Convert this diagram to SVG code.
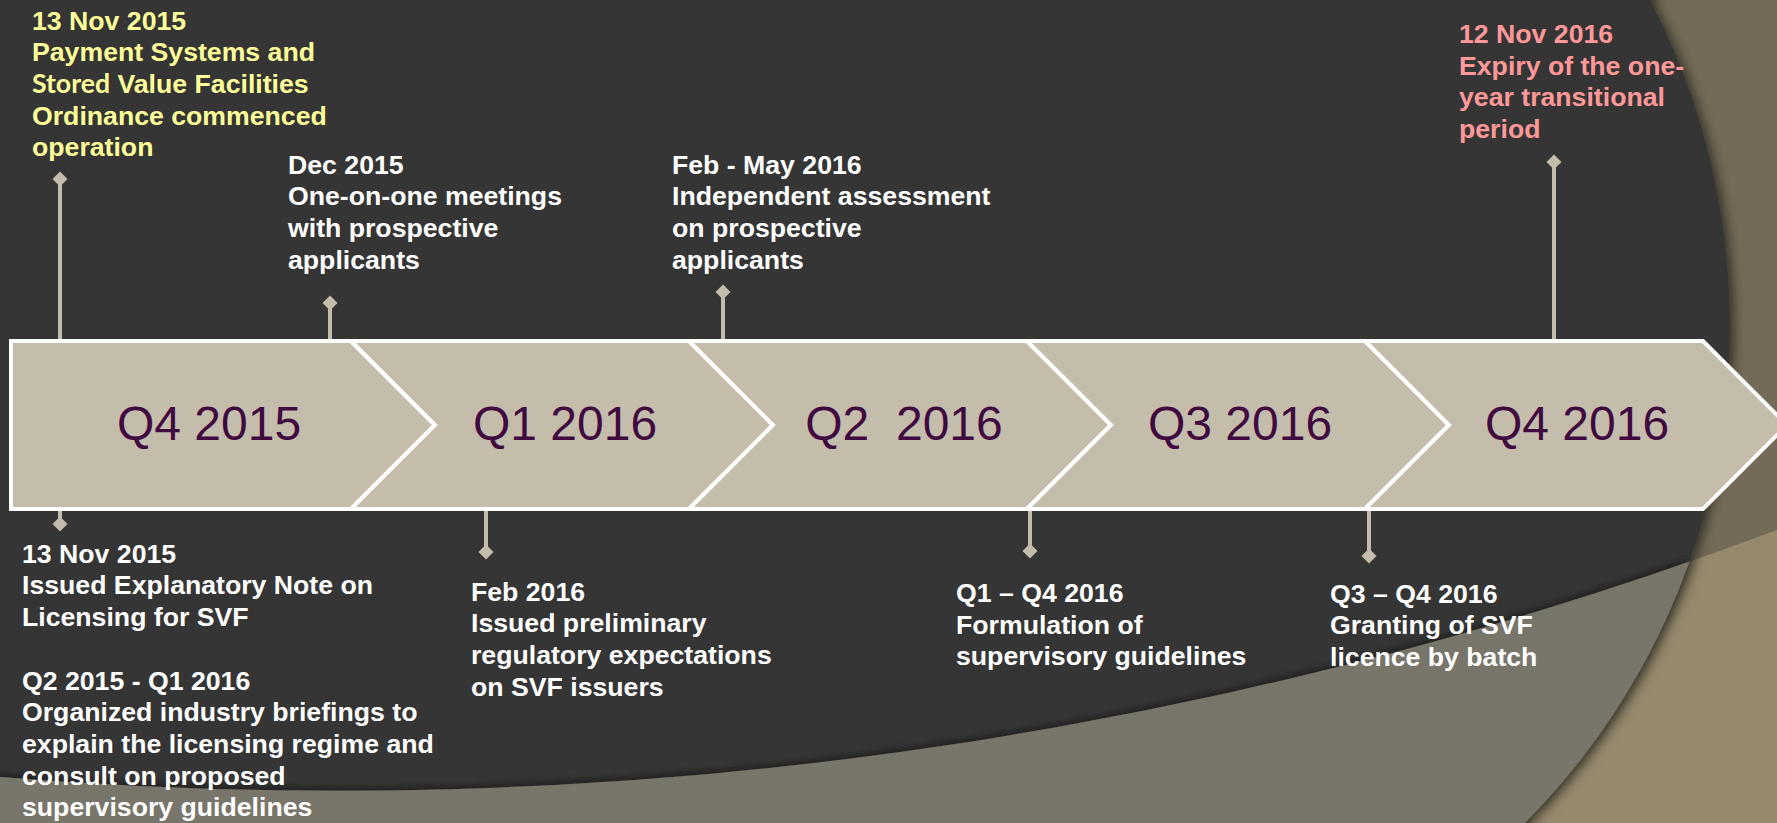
<svg xmlns="http://www.w3.org/2000/svg" width="1777" height="823" viewBox="0 0 1777 823">
  <defs>
    <style>
      .note { font-family: "Liberation Sans", Arial, sans-serif; font-weight: bold; font-size: 26.67px; fill: #FFFFFF; }
      .note.yellow { fill: #FFFF99; }
      .note.pink { fill: #FF9999; }
      .alt { font-family: Lato, "Open Sans", sans-serif; }
      .phase { fill: #C4BDAB; stroke: #FFFFFF; stroke-width: 4; stroke-linejoin: miter; }
      .phase-label { font-family: "Liberation Sans", Arial, sans-serif; font-size: 48px; fill: #400A40; text-anchor: middle; }
      .stem { stroke: #C4BDAB; stroke-width: 4; fill: none; marker-start: url(#diamond); }
    </style>
    <marker id="diamond" viewBox="-8 -8 16 16" markerWidth="16" markerHeight="16" refX="0" refY="0" markerUnits="userSpaceOnUse" orient="0">
      <path d="M0,-7.5 L7.5,0 L0,7.5 L-7.5,0 Z" fill="#C4BDAB"/>
    </marker>
    <clipPath id="discClip">
      <path d="M-20,-20 L1658,-20 L1650,0 A705,705 0 0 1 1525,823 L1520,840 L-20,840 Z"/>
    </clipPath>
    <filter id="discShadow" filterUnits="userSpaceOnUse" x="-50" y="-50" width="1900" height="950">
      <feDropShadow dx="4" dy="2" stdDeviation="6" flood-color="#000000" flood-opacity="0.55"/>
    </filter>
    <filter id="bandShadow" filterUnits="userSpaceOnUse" x="-50" y="-50" width="1900" height="950">
      <feDropShadow dx="0" dy="-3" stdDeviation="5" flood-color="#000000" flood-opacity="0.45"/>
    </filter>
  </defs>

  <!-- backdrop: olive field, tan lower sweep, dark disc with its grey lower band -->
  <g id="backdrop">
    <rect x="0" y="0" width="1777" height="823" fill="#736B57"/>
    <path d="M-20,778 L0,777 A4104,4104 0 0 0 1777,530 L1797,522 L1797,843 L-20,843 Z" fill="#968A6D"/>
    <g filter="url(#discShadow)">
      <path d="M-20,-20 L1658,-20 L1650,0 A705,705 0 0 1 1525,823 L1520,840 L-20,840 Z" fill="#363636"/>
      <g filter="url(#bandShadow)">
        <path clip-path="url(#discClip)" d="M-20,778 L0,777 A4104,4104 0 0 0 1777,530 L1797,522 L1797,843 L-20,843 Z" fill="#78756B"/>
      </g>
    </g>
  </g>

  <!-- stems linking each note to the timeline band -->
  <g id="connectors">
    <path class="stem" d="M60,179 L60,341"/>
    <path class="stem" d="M330,303 L330,341"/>
    <path class="stem" d="M723,292 L723,341"/>
    <path class="stem" d="M1554,162 L1554,341"/>
    <path class="stem" d="M60,524 L60,509"/>
    <path class="stem" d="M486,552 L486,509"/>
    <path class="stem" d="M1030,551 L1030,509"/>
    <path class="stem" d="M1369,556 L1369,509"/>
  </g>

  <!-- quarter chevrons -->
  <g id="phase-q4-2015">
    <path class="phase" d="M11,341 L351,341 L435,425 L351,509 L11,509 Z"/>
    <text class="phase-label" x="209" y="440">Q4 2015</text>
  </g>
  <g id="phase-q1-2016">
    <path class="phase" d="M351,341 L689,341 L773,425 L689,509 L351,509 L435,425 Z"/>
    <text class="phase-label" x="565" y="440">Q1 2016</text>
  </g>
  <g id="phase-q2-2016">
    <path class="phase" d="M689,341 L1027,341 L1111,425 L1027,509 L689,509 L773,425 Z"/>
    <text class="phase-label" x="904" y="440" xml:space="preserve">Q2  2016</text>
  </g>
  <g id="phase-q3-2016">
    <path class="phase" d="M1027,341 L1365,341 L1449,425 L1365,509 L1027,509 L1111,425 Z"/>
    <text class="phase-label" x="1240" y="440">Q3 2016</text>
  </g>
  <g id="phase-q4-2016">
    <path class="phase" d="M1365,341 L1703,341 L1787,425 L1703,509 L1365,509 L1449,425 Z"/>
    <text class="phase-label" x="1577" y="440">Q4 2016</text>
  </g>

  <!-- notes above the band -->
  <g id="note-ordinance">
    <text class="note yellow" x="32" y="29.5">
      <tspan x="32">13 Nov 2015</tspan>
      <tspan x="32" dy="31.7">Payment Systems and</tspan>
      <tspan x="32" dy="31.7"><tspan class="alt">Stored</tspan> Value Facilities</tspan>
      <tspan x="32" dy="31.7">Ordinance commenced</tspan>
      <tspan x="32" dy="31.7">operation</tspan>
    </text>
  </g>
  <g id="note-meetings">
    <text class="note" x="288" y="173.5">
      <tspan x="288">Dec 2015</tspan>
      <tspan x="288" dy="31.7">One-on-one meetings</tspan>
      <tspan x="288" dy="31.7">with prospective</tspan>
      <tspan x="288" dy="31.7">applicants</tspan>
    </text>
  </g>
  <g id="note-assessment">
    <text class="note" x="672" y="173.5">
      <tspan x="672">Feb - May 2016</tspan>
      <tspan x="672" dy="31.7">Independent assessment</tspan>
      <tspan x="672" dy="31.7">on prospective</tspan>
      <tspan x="672" dy="31.7">applicants</tspan>
    </text>
  </g>
  <g id="note-expiry">
    <text class="note pink" x="1459" y="43">
      <tspan x="1459">12 Nov 2016</tspan>
      <tspan x="1459" dy="31.7">Expiry of the one-</tspan>
      <tspan x="1459" dy="31.7">year transitional</tspan>
      <tspan x="1459" dy="31.7">period</tspan>
    </text>
  </g>

  <!-- notes below the band -->
  <g id="note-explanatory">
    <text class="note" x="22" y="562.7">
      <tspan x="22">13 Nov 2015</tspan>
      <tspan x="22" dy="31.7">Issued Explanatory Note on</tspan>
      <tspan x="22" dy="31.7">Licensing for SVF</tspan>
      <tspan x="22" dy="63.4">Q2 2015 - Q1 2016</tspan>
      <tspan x="22" dy="31.7">Organized industry briefings to</tspan>
      <tspan x="22" dy="31.7">explain the licensing regime and</tspan>
      <tspan x="22" dy="31.7">consult on proposed</tspan>
      <tspan x="22" dy="31.7">supervisory guidelines</tspan>
    </text>
  </g>
  <g id="note-preliminary">
    <text class="note" x="471" y="600.7">
      <tspan x="471">Feb 2016</tspan>
      <tspan x="471" dy="31.7">Issued preliminary</tspan>
      <tspan x="471" dy="31.7">regulatory expectations</tspan>
      <tspan x="471" dy="31.7">on SVF issuers</tspan>
    </text>
  </g>
  <g id="note-guidelines">
    <text class="note" x="956" y="602">
      <tspan x="956">Q1 – Q4 2016</tspan>
      <tspan x="956" dy="31.7">Formulation of</tspan>
      <tspan x="956" dy="31.7">supervisory guidelines</tspan>
    </text>
  </g>
  <g id="note-licence">
    <text class="note" x="1330" y="602.5">
      <tspan x="1330">Q3 – Q4 2016</tspan>
      <tspan x="1330" dy="31.7">Granting of SVF</tspan>
      <tspan x="1330" dy="31.7">licence by batch</tspan>
    </text>
  </g>
</svg>
